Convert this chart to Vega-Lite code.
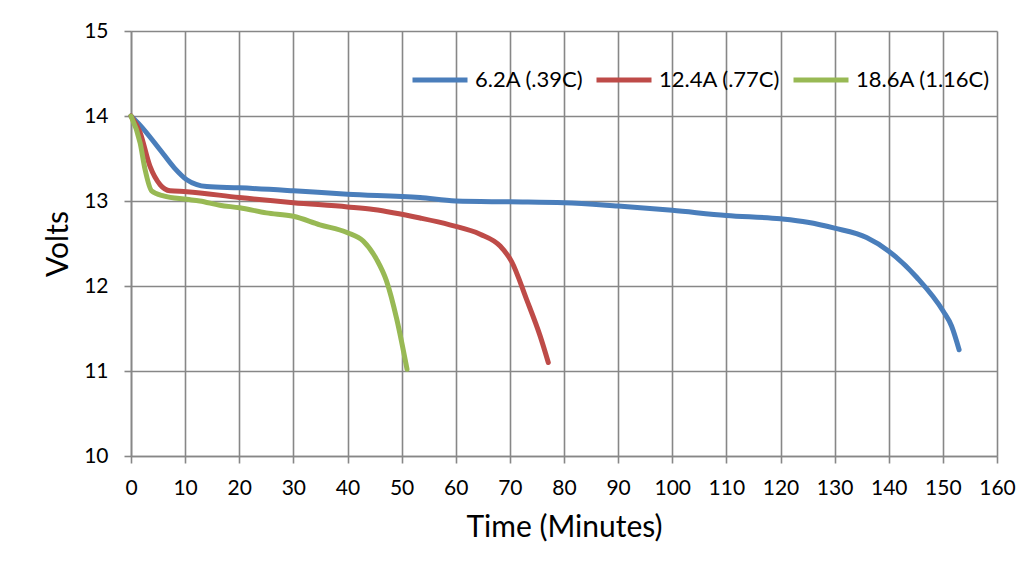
{
  "$schema": "https://vega.github.io/schema/vega-lite/v6.json",
  "autosize": "none",
  "width": 866,
  "height": 425,
  "padding": {"left": 131, "top": 31, "right": 35, "bottom": 121},
  "background": "white",
  "config": {
    "font": "Lato",
    "view": {"stroke": null},
    "axis": {
      "gridColor": "#878787",
      "gridWidth": 1.6,
      "gridOpacity": 1,
      "domainColor": "#878787",
      "domainWidth": 1.6,
      "tickColor": "#878787",
      "tickWidth": 1.6,
      "tickSize": 7,
      "labelColor": "#000000",
      "labelFontSize": 21,
      "labelFont": "Lato",
      "titleFont": "Lato",
      "titleFontSize": 30,
      "titleFontWeight": "normal",
      "titleColor": "#000000"
    }
  },
  "data": {
    "values": [
      {"s": "6.2A (.39C)", "t": 0, "v": 14.0},
      {"s": "6.2A (.39C)", "t": 1.7, "v": 13.89},
      {"s": "6.2A (.39C)", "t": 5.4, "v": 13.6},
      {"s": "6.2A (.39C)", "t": 8, "v": 13.39},
      {"s": "6.2A (.39C)", "t": 10.3, "v": 13.25},
      {"s": "6.2A (.39C)", "t": 14, "v": 13.17},
      {"s": "6.2A (.39C)", "t": 20, "v": 13.155},
      {"s": "6.2A (.39C)", "t": 30, "v": 13.12},
      {"s": "6.2A (.39C)", "t": 40, "v": 13.08},
      {"s": "6.2A (.39C)", "t": 53.4, "v": 13.04},
      {"s": "6.2A (.39C)", "t": 60, "v": 13.0},
      {"s": "6.2A (.39C)", "t": 70, "v": 12.99},
      {"s": "6.2A (.39C)", "t": 80, "v": 12.98},
      {"s": "6.2A (.39C)", "t": 90, "v": 12.94},
      {"s": "6.2A (.39C)", "t": 100, "v": 12.89},
      {"s": "6.2A (.39C)", "t": 110, "v": 12.83},
      {"s": "6.2A (.39C)", "t": 120, "v": 12.79},
      {"s": "6.2A (.39C)", "t": 125, "v": 12.75},
      {"s": "6.2A (.39C)", "t": 130, "v": 12.68},
      {"s": "6.2A (.39C)", "t": 135.9, "v": 12.57},
      {"s": "6.2A (.39C)", "t": 140, "v": 12.41},
      {"s": "6.2A (.39C)", "t": 145.2, "v": 12.1},
      {"s": "6.2A (.39C)", "t": 150.1, "v": 11.7},
      {"s": "6.2A (.39C)", "t": 151.6, "v": 11.53},
      {"s": "6.2A (.39C)", "t": 153.0, "v": 11.25},
      {"s": "12.4A (.77C)", "t": 0, "v": 14.0},
      {"s": "12.4A (.77C)", "t": 1.7, "v": 13.8},
      {"s": "12.4A (.77C)", "t": 3.5, "v": 13.41},
      {"s": "12.4A (.77C)", "t": 5.4, "v": 13.19},
      {"s": "12.4A (.77C)", "t": 7.2, "v": 13.12},
      {"s": "12.4A (.77C)", "t": 10.3, "v": 13.11},
      {"s": "12.4A (.77C)", "t": 20, "v": 13.04},
      {"s": "12.4A (.77C)", "t": 30, "v": 12.98},
      {"s": "12.4A (.77C)", "t": 40, "v": 12.93},
      {"s": "12.4A (.77C)", "t": 44.8, "v": 12.9},
      {"s": "12.4A (.77C)", "t": 53.4, "v": 12.8},
      {"s": "12.4A (.77C)", "t": 58.9, "v": 12.72},
      {"s": "12.4A (.77C)", "t": 64.5, "v": 12.61},
      {"s": "12.4A (.77C)", "t": 68.2, "v": 12.47},
      {"s": "12.4A (.77C)", "t": 70.3, "v": 12.29},
      {"s": "12.4A (.77C)", "t": 73.1, "v": 11.84},
      {"s": "12.4A (.77C)", "t": 75.6, "v": 11.41},
      {"s": "12.4A (.77C)", "t": 77.1, "v": 11.1},
      {"s": "18.6A (1.16C)", "t": 0, "v": 14.0},
      {"s": "18.6A (1.16C)", "t": 1.7, "v": 13.68},
      {"s": "18.6A (1.16C)", "t": 2.6, "v": 13.37},
      {"s": "18.6A (1.16C)", "t": 3.8, "v": 13.12},
      {"s": "18.6A (1.16C)", "t": 6, "v": 13.06},
      {"s": "18.6A (1.16C)", "t": 10.3, "v": 13.02},
      {"s": "18.6A (1.16C)", "t": 12.7, "v": 13.0},
      {"s": "18.6A (1.16C)", "t": 16.4, "v": 12.95},
      {"s": "18.6A (1.16C)", "t": 20.1, "v": 12.92},
      {"s": "18.6A (1.16C)", "t": 25, "v": 12.86},
      {"s": "18.6A (1.16C)", "t": 30, "v": 12.82},
      {"s": "18.6A (1.16C)", "t": 34.9, "v": 12.72},
      {"s": "18.6A (1.16C)", "t": 39.9, "v": 12.63},
      {"s": "18.6A (1.16C)", "t": 42.9, "v": 12.53},
      {"s": "18.6A (1.16C)", "t": 45.4, "v": 12.31},
      {"s": "18.6A (1.16C)", "t": 47.2, "v": 12.06},
      {"s": "18.6A (1.16C)", "t": 49.1, "v": 11.61},
      {"s": "18.6A (1.16C)", "t": 51, "v": 11.02}
    ]
  },
  "mark": {"type": "line", "strokeWidth": 5, "interpolate": "monotone", "strokeCap": "round", "strokeJoin": "round"},
  "encoding": {
    "x": {
      "field": "t", "type": "quantitative",
      "scale": {"domain": [0, 160], "nice": false, "zero": false},
      "axis": {"values": [0,10,20,30,40,50,60,70,80,90,100,110,120,130,140,150,160], "title": "Time (Minutes)", "labelPadding": 14, "titlePadding": 14, "labelFlush": false}
    },
    "y": {
      "field": "v", "type": "quantitative",
      "scale": {"domain": [10, 15], "nice": false, "zero": false},
      "axis": {"values": [10,11,12,13,14,15], "title": "Volts", "labelPadding": 16, "titlePadding": 10}
    },
    "color": {
      "field": "s", "type": "nominal",
      "scale": {"domain": ["6.2A (.39C)", "12.4A (.77C)", "18.6A (1.16C)"], "range": ["#4A7EBB", "#BE4B48", "#98B954"]},
      "legend": {
        "title": null,
        "orient": "none",
        "legendX": 279,
        "legendY": 19,
        "direction": "horizontal",
        "symbolType": "stroke",
        "symbolSize": 3025,
        "symbolStrokeWidth": 5,
        "labelFontSize": 22,
        "labelFont": "Lato",
        "labelColor": "#000000",
        "labelOffset": 5,
        "columnPadding": 2,
        "padding": 0,
        "labelLimit": 300
      }
    },
    "sort": {"field": "t"}
  }
}
